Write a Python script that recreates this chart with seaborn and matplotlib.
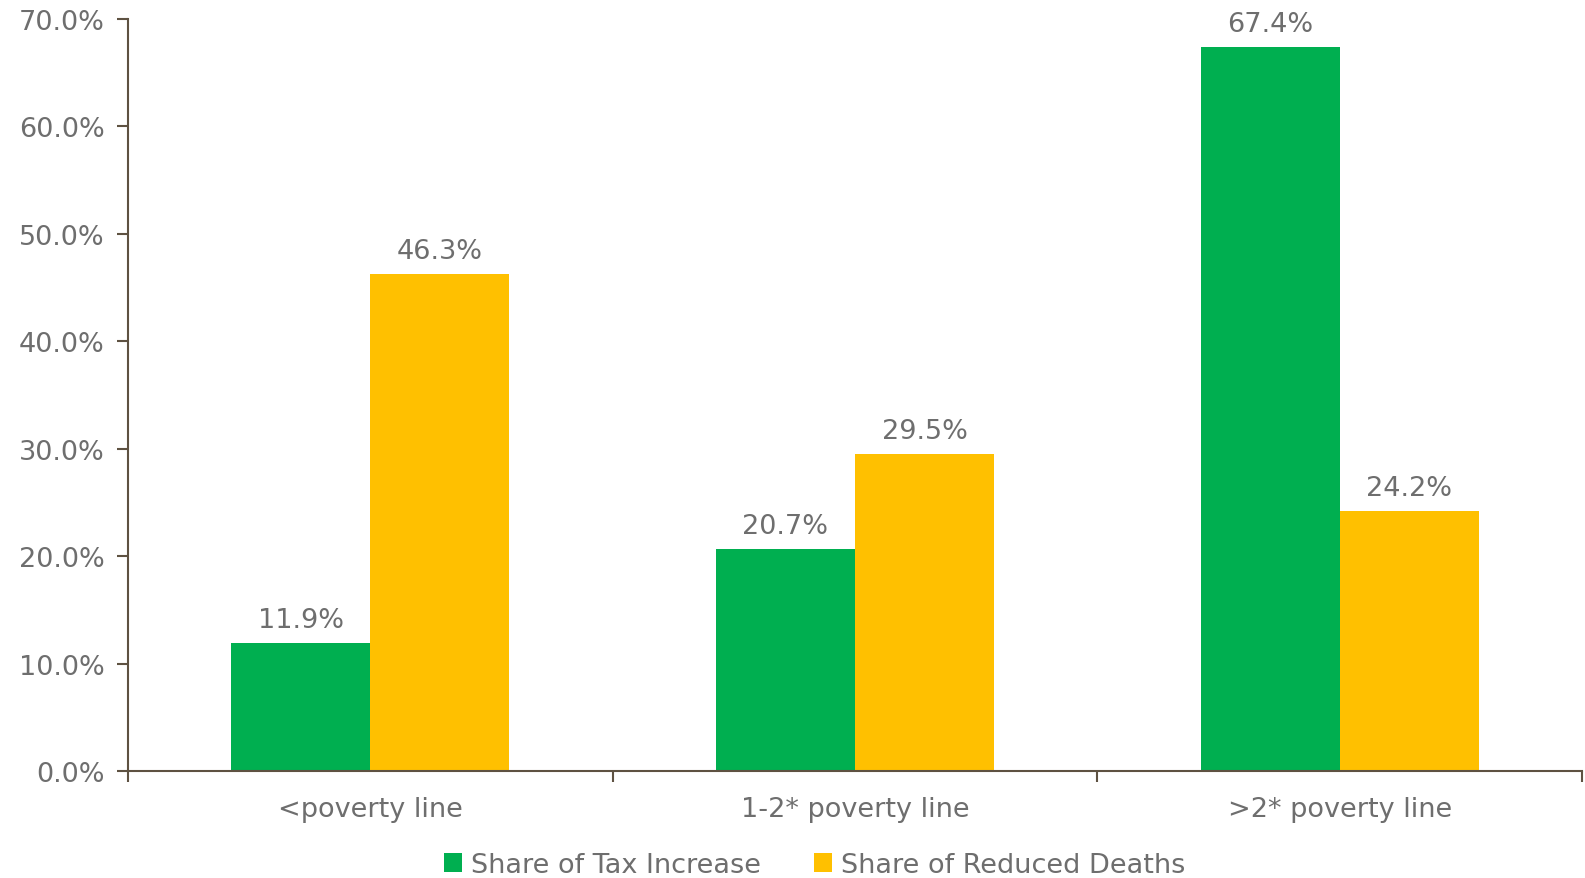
import matplotlib
matplotlib.use("Agg")
import matplotlib.pyplot as plt
import seaborn as sns
import pandas as pd
from matplotlib.ticker import FuncFormatter, FixedLocator

categories = ["<poverty line", "1-2* poverty line", ">2* poverty line"]
series_names = ["Share of Tax Increase", "Share of Reduced Deaths"]
tax_increase = [0.119, 0.207, 0.674]
reduced_deaths = [0.463, 0.295, 0.242]
colors = ["#00AF50", "#FFC000"]

df = pd.DataFrame({
    "category": categories * 2,
    "series": [series_names[0]] * 3 + [series_names[1]] * 3,
    "value": tax_increase + reduced_deaths,
})

sns.set_theme(style="white")
plt.rcParams["font.family"] = ["DejaVu Sans"]
text_color = "#6E6E6E"
axis_color = "#5E5242"
fs = 19.5

fig, ax = plt.subplots(figsize=(15.85, 8.79), dpi=100)
fig.subplots_adjust(left=128/1585, right=1582/1585, top=1-20/879, bottom=1-772/879)

sns.barplot(data=df, x="category", y="value", hue="series", order=categories,
            hue_order=series_names, palette=colors, width=0.574, saturation=1,
            ax=ax, legend=True, edgecolor="none", linewidth=0)

for cont in ax.containers:
    ax.bar_label(cont, labels=[f"{v*100:.1f}%" for v in cont.datavalues],
                 padding=7, fontsize=fs, color=text_color)

ax.set_ylim(0, 0.70)
ax.set_xlim(-0.5, 2.5)
ax.set_yticks([i / 10 for i in range(8)])
ax.yaxis.set_major_formatter(FuncFormatter(lambda v, p: f"{v*100:.1f}%"))
ax.set_xlabel("")
ax.set_ylabel("")

ax.xaxis.set_minor_locator(FixedLocator([-0.5, 0.5, 1.5, 2.5]))
ax.tick_params(axis="x", which="major", length=0, pad=18, labelsize=fs, labelcolor=text_color)
ax.tick_params(axis="x", which="minor", length=8, width=1.5, color=axis_color, direction="out", bottom=True)
ax.tick_params(axis="y", which="major", length=8, width=1.5, color=axis_color, direction="out",
               left=True, pad=9, labelsize=fs, labelcolor=text_color)

sns.despine(ax=ax, top=True, right=True)
for s in ["left", "bottom"]:
    ax.spines[s].set_color(axis_color)
    ax.spines[s].set_linewidth(1.5)

handles, labels = ax.get_legend_handles_labels()
ax.get_legend().remove()
fig.legend(handles, labels, loc="center", bbox_to_anchor=(815/1585, 1-866/879), ncol=2,
           frameon=False, fontsize=fs, labelcolor=text_color, handlelength=0.65,
           handleheight=0.65, handletextpad=0.35, columnspacing=1.95)

fig.savefig("out.png", dpi=100)
